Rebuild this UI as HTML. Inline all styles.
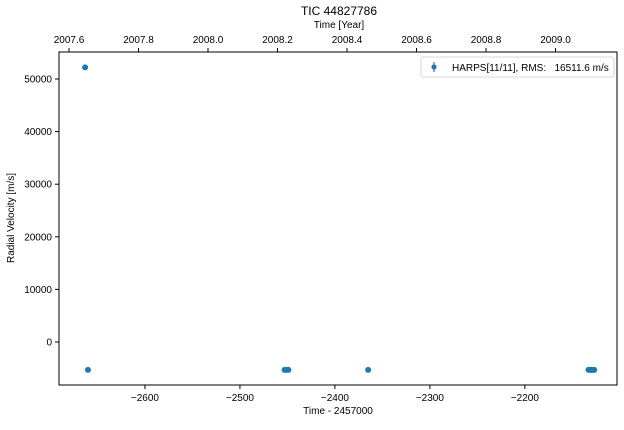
<!DOCTYPE html>
<html><head><meta charset="utf-8"><style>
body{margin:0;background:#fff;font-family:"Liberation Sans",Arial,sans-serif}
svg text{font-family:"Liberation Sans",Arial,sans-serif;font-size:10px;fill:#000}
</style></head><body>
<svg id="chart" width="624" height="425" xmlns="http://www.w3.org/2000/svg">
<text x="339" y="15" text-anchor="middle" style="font-size:12px">TIC 44827786</text>
<text x="339" y="28" text-anchor="middle">Time [Year]</text>
<text x="338" y="414" text-anchor="middle">Time - 2457000</text>
<text transform="translate(14,218) rotate(-90)" text-anchor="middle">Radial Velocity [m/s]</text>
<g id="axes"></g>
<g id="marks"></g>
<g>
<rect x="421" y="57" width="193" height="20" rx="2" fill="#fff" stroke="#ccc" stroke-width="0.8"/>
<line x1="434" y1="62" x2="434" y2="72" stroke="#1f77b4" stroke-width="1.2"/>
<circle cx="434" cy="67" r="2.6" fill="#1f77b4"/>
<text x="452" y="71" style="white-space:pre">HARPS[11/11], RMS:   16511.6 m/s</text>
</g>
</svg>
<script>
const times=[-2663,-2660,-2453,-2451,-2449,-2365,-2133,-2131,-2130,-2128,-2127];
const rvs=[52200,-5300,-5300,-5300,-5300,-5300,-5300,-5300,-5300,-5300,-5300];
const xTicks=[-2600,-2500,-2400,-2300,-2200];
const yTicks=[0,10000,20000,30000,40000,50000];
const yearTicks=[2007.6,2007.8,2008.0,2008.2,2008.4,2008.6,2008.8,2009.0];
const L=59,R=617,T=52,B=385;
const xmin=-2690.5,xmax=-2103,ymin=-8175,ymax=55133;
const sx=v=>L+(v-xmin)/(xmax-xmin)*(R-L);
const sy=v=>B-(v-ymin)/(ymax-ymin)*(B-T);
const yr0=2007.6,yrPx=69.5/0.2,yrX0=69;
const syr=v=>yrX0+(v-yr0)*yrPx;
const NS="http://www.w3.org/2000/svg";
const ax=document.getElementById('axes'),mk=document.getElementById('marks');
function el(t,a,p){const e=document.createElementNS(NS,t);for(const k in a)e.setAttribute(k,a[k]);p.appendChild(e);return e;}
const frame=el('rect',{x:L,y:T,width:R-L,height:B-T,fill:'none',stroke:'#000','stroke-width':1},ax);


xTicks.forEach(v=>{const x=sx(v);
el('line',{x1:x,y1:B,x2:x,y2:B+4,stroke:'#000'},ax);
const t=el('text',{x:x,y:B+16,'text-anchor':'middle'},ax);t.textContent=String(v).replace('-','\u2212');

});
yTicks.forEach(v=>{const y=sy(v);
el('line',{x1:L-4,y1:y,x2:L,y2:y,stroke:'#000'},ax);
const t=el('text',{x:L-7,y:y+3.5,'text-anchor':'end'},ax);t.textContent=v;

});
yearTicks.forEach(v=>{const x=syr(v);
el('line',{x1:x,y1:T-4,x2:x,y2:T,stroke:'#000'},ax);
const t=el('text',{x:x,y:T-9,'text-anchor':'middle'},ax);t.textContent=v.toFixed(1);

});
times.forEach((v,i)=>{const c=el('circle',{cx:sx(v),cy:sy(rvs[i]),r:3,fill:'#1f77b4'},mk);

});
</script>
</body></html>
